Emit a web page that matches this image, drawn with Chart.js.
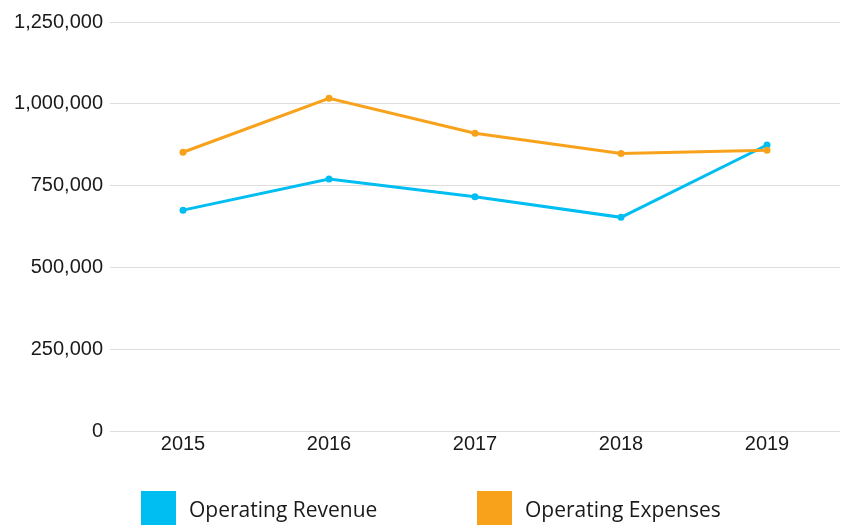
<!DOCTYPE html>
<html>
<head>
<meta charset="utf-8">
<script src="https://cdn.jsdelivr.net/npm/chart.js@4/dist/chart.umd.min.js"></script>
<style>
  html, body { margin: 0; padding: 0; background: #fff; }
  #wrap { width: 846px; height: 525px; position: relative; }
</style>
</head>
<body>
<div id="wrap"><canvas id="c" width="846" height="525"></canvas></div>
<script>
const categories = ['2015', '2016', '2017', '2018', '2019'];
const revenueLabel = 'Operating Revenue';
const expensesLabel = 'Operating Expenses';
const operatingRevenue = [675000, 770000, 716000, 653000, 874000];
const operatingExpenses = [852000, 1017000, 910000, 848000, 858000];
const yTicks = [0, 250000, 500000, 750000, 1000000, 1250000];

const BLUE = '#00bdf2';
const ORANGE = '#f8a21c';

const legendPlugin = {
  id: 'customLegend',
  afterDraw(chart) {
    const ctx = chart.ctx;
    const items = [chart.data.datasets[1], chart.data.datasets[0]];
    const starts = [141, 477];
    ctx.save();
    ctx.font = '21px "Open Sans", sans-serif';
    ctx.textBaseline = 'middle';
    ctx.textAlign = 'left';
    items.forEach((ds, i) => {
      ctx.fillStyle = ds.borderColor;
      ctx.fillRect(starts[i], 491, 35, 38);
      ctx.fillStyle = '#1a1a1a';
      ctx.fillText(ds.label, starts[i] + 48, 511);
    });
    ctx.restore();
  }
};

new Chart(document.getElementById('c'), {
  type: 'line',
  data: {
    labels: categories,
    datasets: [
      {
        label: expensesLabel,
        data: operatingExpenses,
        borderColor: ORANGE,
        backgroundColor: ORANGE,
        borderWidth: 3,
        pointRadius: 3.5,
        pointBorderWidth: 0,
        tension: 0,
        fill: false
      },
      {
        label: revenueLabel,
        data: operatingRevenue,
        borderColor: BLUE,
        backgroundColor: BLUE,
        borderWidth: 3,
        pointRadius: 3.5,
        pointBorderWidth: 0,
        tension: 0,
        fill: false
      }
    ]
  },
  options: {
    responsive: false,
    animation: false,
    devicePixelRatio: 1,
    layout: { padding: { top: 22, right: 6, bottom: 68, left: 0 } },
    plugins: {
      legend: { display: false },
      tooltip: { enabled: false }
    },
    scales: {
      x: {
        offset: true,
        grid: { display: false, drawTicks: false },
        border: { display: false },
        ticks: {
          color: '#1a1a1a',
          padding: 1,
          font: { family: '"Liberation Sans", Arial, sans-serif', size: 20 }
        }
      },
      y: {
        min: 0,
        max: 1250000,
        afterBuildTicks(scale) {
          scale.ticks = yTicks.map(v => ({ value: v }));
        },
        afterFit(scale) { scale.width = 110; },
        grid: { color: '#dddddd', lineWidth: 1, drawTicks: false },
        border: { display: false },
        ticks: {
          color: '#1a1a1a',
          padding: 7,
          font: { family: '"Liberation Sans", Arial, sans-serif', size: 20 },
          callback: v => v.toLocaleString('en-US')
        }
      }
    }
  },
  plugins: [legendPlugin]
});
</script>
</body>
</html>
